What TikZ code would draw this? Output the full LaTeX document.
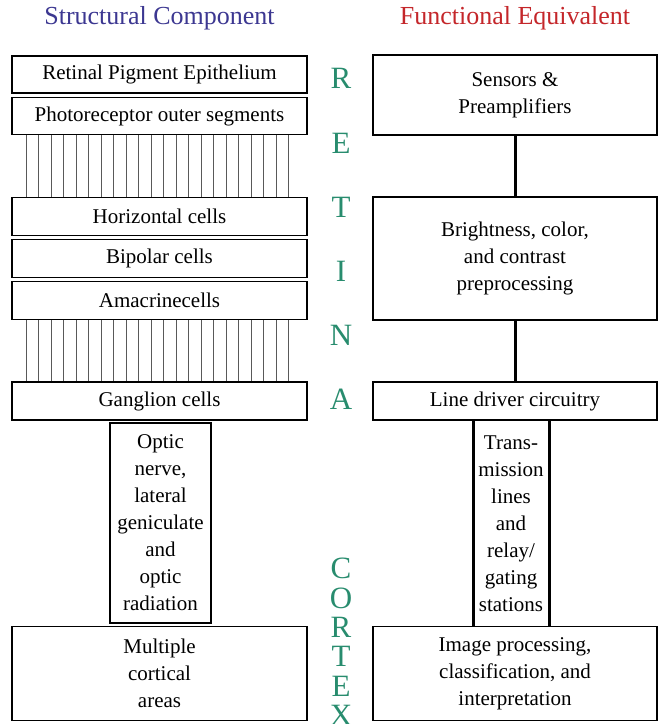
\documentclass[tikz,border=0pt]{standalone}
\usepackage{fontspec}
\setmainfont{Liberation Serif}
\definecolor{structblue}{RGB}{60,55,145}
\definecolor{funcred}{RGB}{196,38,42}
\definecolor{layergreen}{RGB}{40,140,110}
\begin{document}
\begin{tikzpicture}[x=1pt,y=-1pt,
  box/.style={draw=black,line width=1.5pt,inner sep=0pt,align=center,
    font=\fontsize{21}{27}\selectfont},
  leftbox/.style={box,minimum width=295pt},
  rightbox/.style={box,minimum width=284pt},
  plain/.style={inner sep=0pt,align=center,font=\fontsize{21}{27}\selectfont},
  header/.style={inner sep=0pt,font=\fontsize{26}{30}\selectfont},
  layer/.style={inner sep=0pt,text=layergreen,font=\fontsize{31}{31}\selectfont},
  fiber/.style={draw=black!65,line width=0.9pt},
  trunk/.style={draw=black,line width=3pt}]
\useasboundingbox (0,0) rectangle (661,724);

% column headings
\node[header,text=structblue] (hs) at (159.5,18) {Structural Component};
\node[header,text=funcred] (hf) at (515,18) {Functional Equivalent};

% structural column
\node[leftbox,minimum height=37pt] (rpe) at (159.5,74.5) {Retinal Pigment Epithelium};
\node[leftbox,minimum height=37pt] (pos) at (159.5,116) {Photoreceptor outer segments};
\node[leftbox,minimum height=38pt] (hor) at (159.5,216.5) {Horizontal cells};
\node[leftbox,minimum height=38pt] (bip) at (159.5,258.5) {Bipolar cells};
\node[leftbox,minimum height=38pt] (ama) at (159.5,300.5) {Amacrinecells};
\node[leftbox,minimum height=38pt] (gang) at (159.5,401) {Ganglion cells};
\node[box,minimum width=101pt,minimum height=200pt] (optic) at (160.5,523)
  {Optic\\nerve,\\lateral\\geniculate\\and\\optic\\radiation};
\node[leftbox,minimum height=94pt] (cort) at (159.5,673.5) {Multiple\\cortical\\areas};

% fibres between layers
\foreach \i in {0,...,21} {
  \draw[fiber] ([xshift=14.7pt+12.5pt*\i]pos.south west) -- ([xshift=14.7pt+12.5pt*\i]hor.north west);
  \draw[fiber] ([xshift=14.7pt+12.5pt*\i]ama.south west) -- ([xshift=14.7pt+12.5pt*\i]gang.north west);
}

% functional column
\node[rightbox,minimum height=80pt] (sens) at (515,95) {Sensors \&\\Preamplifiers};
\node[rightbox,minimum height=123pt] (bright) at (515,258.5)
  {Brightness, color,\\and contrast\\preprocessing};
\node[rightbox,minimum height=38pt] (drv) at (515,401) {Line driver circuitry};
\node[rightbox,minimum height=94pt] (img) at (515,673.5)
  {Image processing,\\classification, and\\interpretation};
\node[plain] (trans) at (511,523.5)
  {Trans-\\mission\\lines\\and\\relay/\\gating\\stations};

\draw[trunk] (sens.south) -- (bright.north);
\draw[trunk] (bright.south) -- (drv.north);
\draw[trunk] ([xshift=-41.5pt]drv.south) -- ([xshift=-41.5pt]img.north);
\draw[trunk] ([xshift=34.5pt]drv.south) -- ([xshift=34.5pt]img.north);

% layer labels
\foreach \c/\y [count=\k] in {R/78,E/143,T/207,I/271,N/335,A/399}
  \node[layer] (ret\k) at (341,\y) {\c};
\foreach \c/\y [count=\k] in {C/568,O/598.5,R/627.5,T/656.5,E/686,X/715.5}
  \node[layer] (ctx\k) at (341,\y) {\c};
\end{tikzpicture}
\end{document}
